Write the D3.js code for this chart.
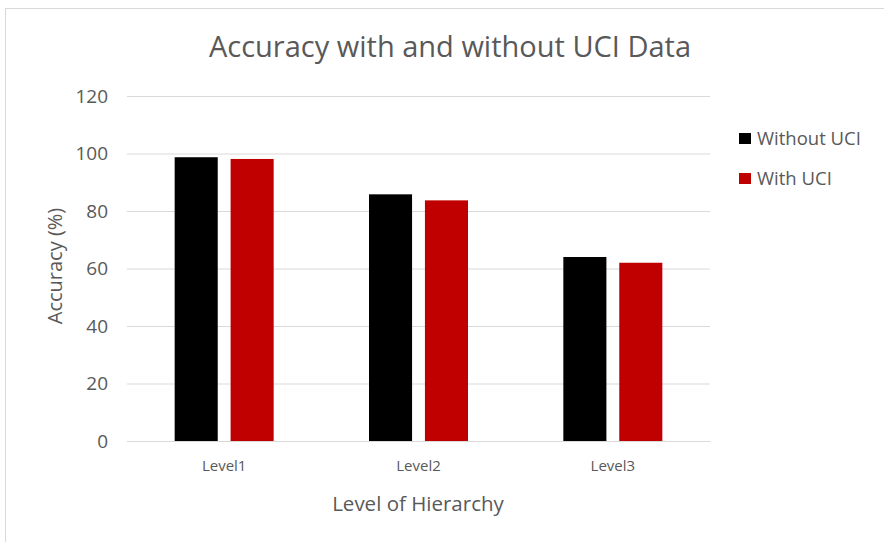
<!DOCTYPE html>
<html>
<head>
<meta charset="utf-8">
<script src="https://cdn.jsdelivr.net/npm/d3@7"></script>
<style>
  body { margin: 0; background: #fff; }
  text { font-family: "Open Sans", Lato, sans-serif; fill: #595959; }
</style>
</head>
<body>
<div class="chart"></div>
<script>
var levels = ["Level1", "Level2", "Level3"];
var seriesNames = ["Without UCI", "With UCI"];
var withoutUCI = [98.7, 85.8, 64.0];
var withUCI = [98.1, 83.7, 62.0];
var yTicks = [0, 20, 40, 60, 80, 100, 120];
var colors = ["#000000", "#C00000"];

var svgWidth = 884;
var svgHeight = 542;
var margin = { top: 96, right: 174, bottom: 101, left: 127 };
var width = svgWidth - margin.left - margin.right;
var height = svgHeight - margin.top - margin.bottom;

var svg = d3.select(".chart")
  .append("svg")
  .attr("width", svgWidth)
  .attr("height", svgHeight);

// chart area frame
svg.append("rect")
  .attr("x", 5.5).attr("y", 8.5)
  .attr("width", 900).attr("height", 600)
  .attr("fill", "none")
  .attr("stroke", "#d9d9d9");

var chart = svg.append("g")
  .attr("transform", "translate(" + margin.left + "," + margin.top + ")");

var x0 = d3.scaleBand().domain(levels).range([0, width]);
var x1 = d3.scaleBand().domain(seriesNames)
  .range([x0.bandwidth() / 2 - 49.5, x0.bandwidth() / 2 + 49.5])
  .paddingInner(0.23);
var y = d3.scaleLinear().domain([0, 120]).range([height, 0]);

// gridlines
chart.append("g")
  .call(d3.axisLeft(y).tickValues(yTicks).tickSize(-width).tickFormat(""))
  .call(function(g) {
    g.select(".domain").remove();
    g.selectAll("line").attr("stroke", "#d9d9d9");
  });

// y tick labels
chart.append("g")
  .call(d3.axisLeft(y).tickValues(yTicks).tickSize(0).tickPadding(19))
  .call(function(g) {
    g.select(".domain").remove();
    g.selectAll("text").style("font-size", "19px").attr("fill", "#595959");
  });

var rows = levels.map(function(l, i) {
  return { level: l, values: [withoutUCI[i], withUCI[i]] };
});

var groups = chart.selectAll(".grp")
  .data(rows)
  .enter().append("g")
  .attr("class", "grp")
  .attr("transform", function(d) { return "translate(" + x0(d.level) + ",0)"; });

groups.selectAll("rect")
  .data(function(d) { return d.values.map(function(v, i) { return { name: seriesNames[i], value: v, i: i }; }); })
  .enter().append("rect")
  .attr("x", function(d) { return x1(d.name); })
  .attr("width", x1.bandwidth())
  .attr("y", function(d) { return y(d.value); })
  .attr("height", function(d) { return height - y(d.value); })
  .attr("fill", function(d) { return colors[d.i]; });

// x axis labels
chart.append("g")
  .attr("transform", "translate(0," + height + ")")
  .call(d3.axisBottom(x0).tickSize(0).tickPadding(19))
  .call(function(g) {
    g.select(".domain").attr("stroke", "#d9d9d9");
    g.selectAll("text").style("font-size", "15px").attr("fill", "#595959");
  });

// title
svg.append("text")
  .attr("x", 450).attr("y", 57)
  .attr("text-anchor", "middle")
  .style("font-size", "29px")
  .text("Accuracy with and without UCI Data");

// axis titles
svg.append("text")
  .attr("x", 418).attr("y", 511)
  .attr("text-anchor", "middle")
  .style("font-size", "20.5px")
  .text("Level of Hierarchy");

svg.append("text")
  .attr("transform", "translate(62,266) rotate(-90)")
  .attr("text-anchor", "middle")
  .style("font-size", "20px")
  .text("Accuracy (%)");

// legend
var legend = svg.append("g").attr("transform", "translate(739,133)");
var item = legend.selectAll("g")
  .data(seriesNames)
  .enter().append("g")
  .attr("transform", function(d, i) { return "translate(0," + i * 40 + ")"; });
item.append("rect")
  .attr("width", 12).attr("height", 11)
  .attr("fill", function(d, i) { return colors[i]; });
item.append("text")
  .attr("x", 18).attr("y", 12)
  .style("font-size", "18.5px")
  .text(function(d) { return d; });
</script>
</body>
</html>
